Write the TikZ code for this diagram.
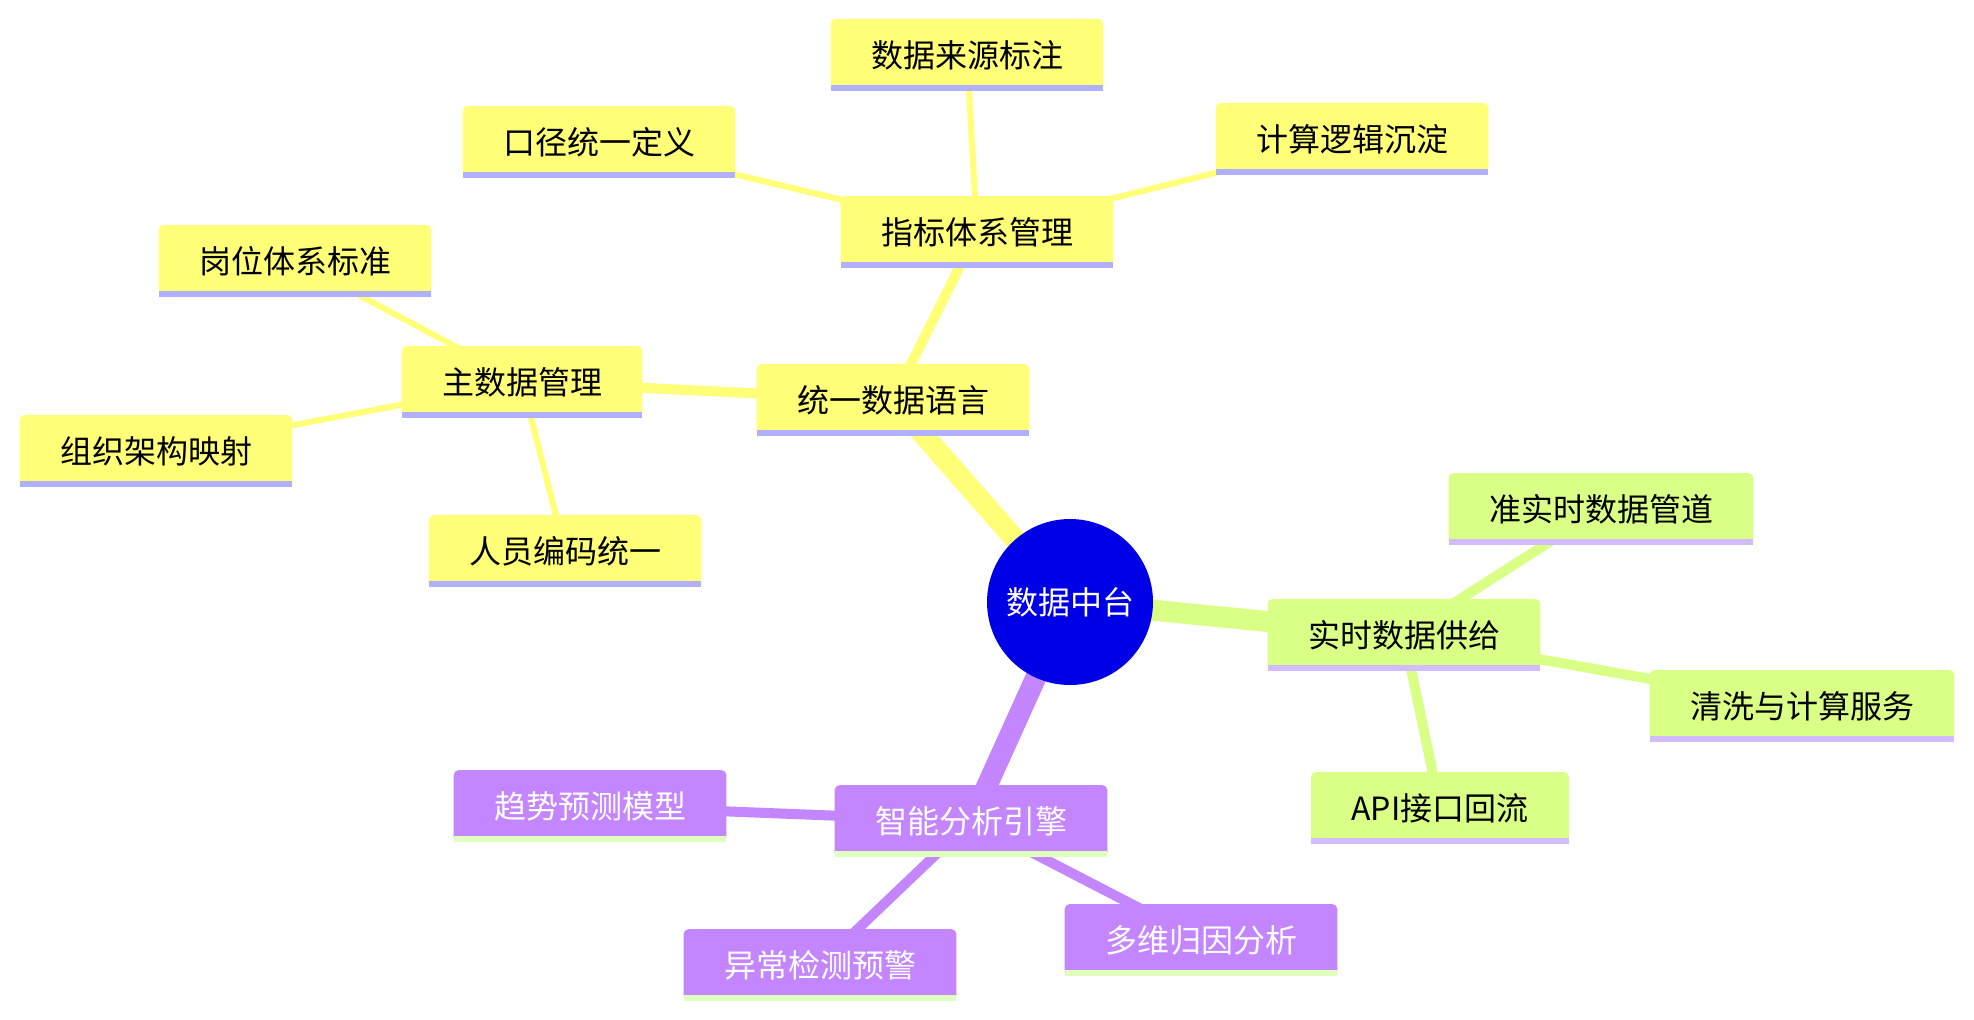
\documentclass[tikz,border=0pt]{standalone}
\usepackage{fontspec}
\setmainfont{Noto Sans CJK SC}
\usetikzlibrary{backgrounds}
\definecolor{rootblue}{RGB}{0,0,230}
\definecolor{secA}{RGB}{255,255,120}
\definecolor{secAline}{RGB}{176,176,255}
\definecolor{secB}{RGB}{217,255,134}
\definecolor{secBline}{RGB}{210,188,255}
\definecolor{secC}{RGB}{195,134,255}
\definecolor{secCline}{RGB}{222,255,190}

\begin{document}
\begin{tikzpicture}[x=0.5pt,y=-0.5pt,
  topic/.style 2 args={minimum height=35.5pt,
    inner xsep=20pt,inner ysep=0pt,font=\fontsize{16}{19}\selectfont,
    append after command={\pgfextra{
      \fill[#1,rounded corners=2.5pt] (\tikzlastnode.south west) rectangle (\tikzlastnode.north east);
      \fill[#2,sharp corners] (\tikzlastnode.south west) rectangle ([yshift=3pt]\tikzlastnode.south east);}}},
  ya/.style={topic={secA}{secAline}},
  gr/.style={topic={secB}{secBline}},
  pu/.style={topic={secC}{secCline},text=white},
  e0/.style={line width=10.5pt},
  e1/.style={line width=5pt},
  e2/.style={line width=3pt}]
\useasboundingbox (0,0) rectangle (1974,1019);
\node[circle,fill=rootblue,minimum size=83pt,inner sep=0pt,text=white,
  font=\fontsize{16}{19}\selectfont] (root) at (1070,602) {数据中台};
\node[ya] (lang) at (893,400) {统一数据语言};
\node[ya] (metric) at (977,232) {指标体系管理};
\node[ya] (source) at (967,55) {数据来源标注};
\node[ya] (logic) at (1352,139) {计算逻辑沉淀};
\node[ya] (define) at (599,142) {口径统一定义};
\node[ya] (master) at (522,382) {主数据管理};
\node[ya] (post) at (295,261) {岗位体系标准};
\node[ya] (org) at (156,451) {组织架构映射};
\node[ya] (staff) at (565,551) {人员编码统一};
\node[gr] (supply) at (1404,635) {实时数据供给};
\node[gr] (pipe) at (1601,509) {准实时数据管道};
\node[gr] (clean) at (1802,706) {清洗与计算服务};
\node[gr] (api) at (1440,808) {API接口回流};
\node[pu] (engine) at (971,821) {智能分析引擎};
\node[pu] (trend) at (590,806) {趋势预测模型};
\node[pu] (alarm) at (820,965) {异常检测预警};
\node[pu] (cause) at (1201,940) {多维归因分析};
\begin{scope}[on background layer]
\draw[secA,e0] (root.center) -- (lang.center);
\draw[secA,e1] (lang.center) -- (metric.center);
\draw[secA,e1] (lang.center) -- (master.center);
\foreach \n in {source,logic,define} \draw[secA,e2] (metric.center) -- (\n.center);
\foreach \n in {post,org,staff} \draw[secA,e2] (master.center) -- (\n.center);
\draw[secB,e0] (root.center) -- (supply.center);
\foreach \n in {pipe,clean,api} \draw[secB,e1] (supply.center) -- (\n.center);
\draw[secC,e0] (root.center) -- (engine.center);
\foreach \n in {trend,alarm,cause} \draw[secC,e1] (engine.center) -- (\n.center);
\end{scope}
\end{tikzpicture}
\end{document}
